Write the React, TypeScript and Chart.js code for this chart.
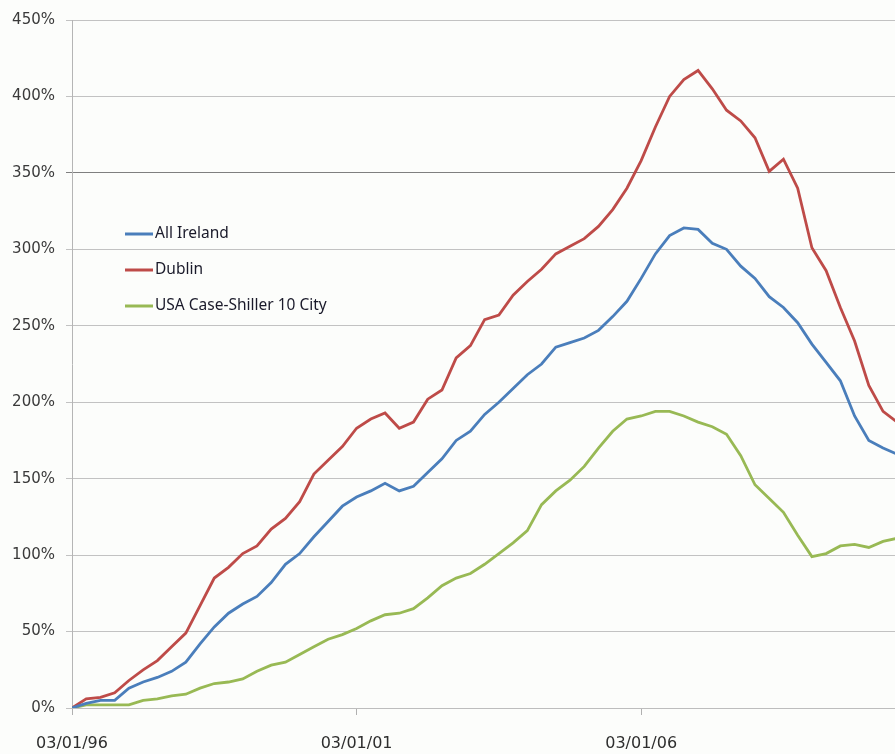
import React, { useEffect, useRef } from 'react';
import { Chart, registerables } from 'chart.js';

Chart.register(...registerables);

// Quarterly index positions (0 = 03/01/96)
const xTickValues = [0, 20, 40];
const xTickLabels = ['03/01/96', '03/01/01', '03/01/06'];
const xMaxVisible = 57.84;
const yTickStep = 50;
const yMax = 450;

const seriesNames = ['All Ireland', 'Dublin', 'USA Case-Shiller 10 City'];
const seriesColors = ['#4A7EBB', '#BE4B48', '#98B954'];

const allIreland = [
  0, 3, 5, 5, 13, 17, 20, 24, 30, 42,
  53, 62, 68, 73, 82, 94, 101, 112, 122, 132,
  138, 142, 147, 142, 145, 154, 163, 175, 181, 192,
  200, 209, 218, 225, 236, 239, 242, 247, 256, 266,
  281, 297, 309, 314, 313, 304, 300, 289, 281, 269,
  262, 252, 238, 226, 214, 191, 175, 170, 166,
];

const dublin = [
  0, 6, 7, 10, 18, 25, 31, 40, 49, 67,
  85, 92, 101, 106, 117, 124, 135, 153, 162, 171,
  183, 189, 193, 183, 187, 202, 208, 229, 237, 254,
  257, 270, 279, 287, 297, 302, 307, 315, 326, 340,
  358, 380, 400, 411, 417, 405, 391, 384, 373, 351,
  359, 340, 301, 286, 262, 240, 211, 194, 187,
];

const usaCaseShiller = [
  0, 2, 2, 2, 2, 5, 6, 8, 9, 13,
  16, 17, 19, 24, 28, 30, 35, 40, 45, 48,
  52, 57, 61, 62, 65, 72, 80, 85, 88, 94,
  101, 108, 116, 133, 142, 149, 158, 170, 181, 189,
  191, 194, 194, 191, 187, 184, 179, 165, 146, 137,
  128, 113, 99, 101, 106, 107, 105, 109, 111,
];

const seriesValues = [allIreland, dublin, usaCaseShiller];

const insideLegend = {
  id: 'insideLegend',
  afterDraw(chart: any) {
    const ctx = chart.ctx;
    ctx.save();
    chart.data.datasets.forEach((ds: any, i: number) => {
      const y = 234 + i * 36;
      ctx.strokeStyle = ds.borderColor;
      ctx.lineWidth = 3;
      ctx.beginPath();
      ctx.moveTo(125, y);
      ctx.lineTo(153, y);
      ctx.stroke();
      ctx.fillStyle = '#1a1a2a';
      ctx.font = '15.5px "Noto Sans"';
      ctx.textBaseline = 'middle';
      ctx.textAlign = 'left';
      ctx.fillText(ds.label, 155, y);
    });
    ctx.restore();
  },
};

export default function App() {
  const canvasRef = useRef<HTMLCanvasElement | null>(null);

  useEffect(() => {
    if (!canvasRef.current) return;
    const chart = new Chart(canvasRef.current, {
      type: 'line',
      data: {
        datasets: seriesNames.map((name, i) => ({
          label: name,
          data: seriesValues[i].map((v, idx) => ({ x: idx, y: v })),
          borderColor: seriesColors[i],
          backgroundColor: seriesColors[i],
          borderWidth: 2.8,
          pointRadius: 0,
          tension: 0,
          fill: false,
        })),
      },
      options: {
        responsive: false,
        animation: false,
        layout: { padding: { top: 17, right: 0, bottom: 0, left: 0 } },
        plugins: {
          legend: { display: false },
          tooltip: { enabled: false },
        },
        scales: {
          x: {
            type: 'linear',
            min: 0,
            max: xMaxVisible,
            afterBuildTicks: (scale: any) => {
              scale.ticks = xTickValues.map((v) => ({ value: v }));
            },
            afterFit: (scale: any) => {
              scale.height = 46;
            },
            grid: {
              drawOnChartArea: false,
              drawTicks: true,
              tickLength: 7,
              color: '#B0B0B0',
            },
            border: { display: true, color: '#BDBDBD', width: 1 },
            ticks: {
              autoSkip: false,
              maxRotation: 0,
              padding: 19,
              color: '#2e2e2e',
              font: { family: '"DejaVu Sans"', size: 16 },
              callback: (value: any) => {
                const idx = xTickValues.indexOf(Number(value));
                return idx >= 0 ? xTickLabels[idx] : '';
              },
            },
          },
          y: {
            min: 0,
            max: yMax,
            afterFit: (scale: any) => {
              scale.width = 72;
            },
            grid: {
              color: (ctx: any) => (ctx.tick && ctx.tick.value === 350 ? '#7F7F7F' : '#C2C2C2'),
              lineWidth: 1,
              tickLength: 6,
            },
            border: { display: true, color: '#B5B5B5', width: 1 },
            ticks: {
              stepSize: yTickStep,
              padding: 11,
              color: '#3a3a3a',
              font: { family: '"DejaVu Sans"', size: 15 },
              callback: (value: any) => `${value}%`,
            },
          },
        },
      },
      plugins: [insideLegend],
    });
    return () => chart.destroy();
  }, []);

  return (
    <div
      style={{
        position: 'fixed',
        left: 0,
        top: 0,
        width: 895,
        height: 754,
        background: '#FCFDFB',
        overflow: 'hidden',
      }}
    >
      <canvas ref={canvasRef} width={895} height={754} style={{ display: 'block' }} />
    </div>
  );
}
